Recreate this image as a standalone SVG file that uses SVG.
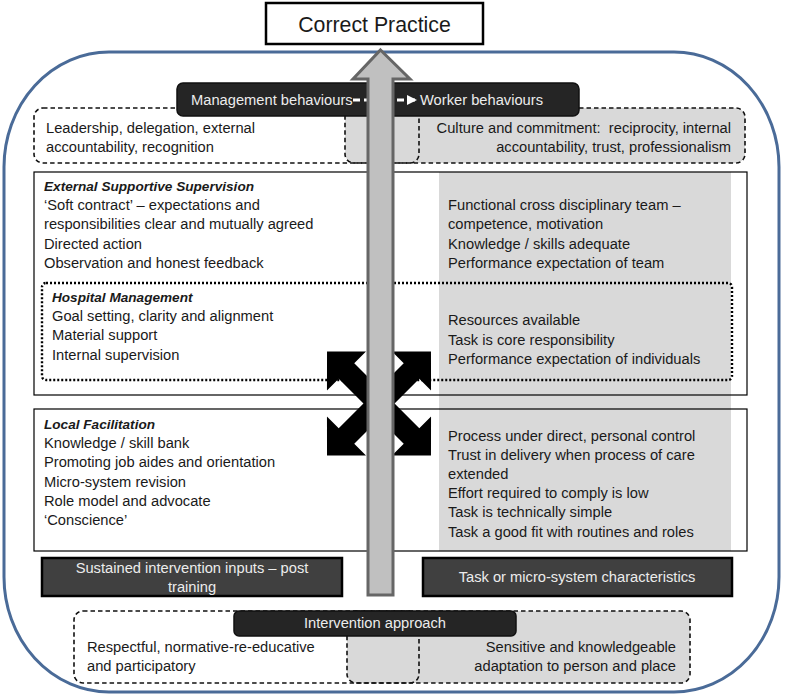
<svg xmlns="http://www.w3.org/2000/svg" width="786" height="697" viewBox="0 0 786 697">
<style>
text{font-family:"Liberation Sans",Arial,sans-serif;font-size:14.7px;fill:#1a1a1a}
.hd{font-weight:bold;font-style:italic;font-size:13.6px}
.lt{fill:#ececec}
.pre{white-space:pre}
.dash{fill:none;stroke:#111;stroke-width:1.6;stroke-dasharray:4.5 3}
.dashg{fill:#d9d9d9;stroke:#111;stroke-width:1.6;stroke-dasharray:4.5 3}
.lbl{fill:#252525;stroke:#111;stroke-width:1.5}
.dk{fill:#404040;stroke:#000;stroke-width:2.5}
.box{fill:none;stroke:#000;stroke-width:1.2}
</style>
<defs>
<marker id="wh" viewBox="0 0 10 10" refX="9" refY="5" markerWidth="3.2" markerHeight="3.2" orient="auto">
<path d="M0 0L10 5L0 10Z" fill="#fff"/>
</marker>
</defs>
<rect x="4" y="52" width="775" height="640" rx="105" ry="115" fill="none" stroke="#4a6b98" stroke-width="3"/>

<g id="correct-practice">
<rect x="266" y="3" width="217" height="41" fill="#fff" stroke="#000" stroke-width="2.5"/>
<text x="374.5" y="31.5" text-anchor="middle" style="font-size:21.3px">Correct Practice</text>
</g>

<g id="behaviours-top">
<rect class="dashg" x="345" y="108" width="400" height="55" rx="9"/>
<rect class="dash" x="34" y="108" width="385" height="55" rx="9"/>
<text x="46" y="133">Leadership, delegation, external</text>
<text x="46" y="152">accountability, recognition</text>
<text x="731" y="133" text-anchor="end" class="pre">Culture and commitment:  reciprocity, internal</text>
<text x="731" y="152" text-anchor="end">accountability, trust, professionalism</text>
</g>

<g id="behaviours-label">
<rect class="lbl" x="177" y="83" width="402" height="33" rx="6"/>
<text class="lt" x="191" y="105">Management behaviours</text>
<text class="lt" x="420" y="105">Worker behaviours</text>
</g>

<g id="panels">
<rect x="439" y="172" width="292" height="379" fill="#d9d9d9"/>
<rect class="box" x="34" y="172" width="713" height="223"/>
<rect class="box" x="34" y="409" width="713" height="142"/>
</g>

<g id="external-supervision">
<text class="hd" x="44" y="191">External Supportive Supervision</text>
<text x="44" y="210">‘Soft contract’ – expectations and</text>
<text x="44" y="229">responsibilities clear and mutually agreed</text>
<text x="44" y="249">Directed action</text>
<text x="44" y="268">Observation and honest feedback</text>
</g>

<g id="team-characteristics">
<text x="448" y="210">Functional cross disciplinary team –</text>
<text x="448" y="229">competence, motivation</text>
<text x="448" y="249">Knowledge / skills adequate</text>
<text x="448" y="268">Performance expectation of team</text>
</g>

<g id="hospital-management">
<rect x="42" y="283" width="690" height="97" rx="4" fill="none" stroke="#000" stroke-width="2.4" stroke-dasharray="2 2"/>
<text class="hd" x="52" y="302">Hospital Management</text>
<text x="52" y="321">Goal setting, clarity and alignment</text>
<text x="52" y="340">Material support</text>
<text x="52" y="360">Internal supervision</text>
<text x="448" y="325">Resources available</text>
<text x="448" y="345">Task is core responsibility</text>
<text x="448" y="364">Performance expectation of individuals</text>
</g>

<g id="local-facilitation">
<text class="hd" x="44" y="429">Local Facilitation</text>
<text x="44" y="448">Knowledge / skill bank</text>
<text x="44" y="467">Promoting job aides and orientation</text>
<text x="44" y="487">Micro-system revision</text>
<text x="44" y="506">Role model and advocate</text>
<text x="44" y="525">‘Conscience’</text>
</g>

<g id="task-characteristics">
<text x="448" y="441">Process under direct, personal control</text>
<text x="448" y="460">Trust in delivery when process of care</text>
<text x="448" y="479">extended</text>
<text x="448" y="498">Effort required to comply is low</text>
<text x="448" y="517">Task is technically simple</text>
<text x="448" y="537">Task a good fit with routines and roles</text>
</g>

<g id="sustained-inputs">
<rect class="dk" x="42" y="558" width="300" height="38"/>
<text class="lt" x="192" y="573" text-anchor="middle">Sustained intervention inputs – post</text>
<text class="lt" x="192" y="592" text-anchor="middle">training</text>
</g>

<g id="task-label">
<rect class="dk" x="423" y="558" width="309" height="38"/>
<text class="lt" x="577" y="582" text-anchor="middle">Task or micro-system characteristics</text>
</g>

<g id="intervention-approach">
<rect class="dashg" x="347" y="611" width="343" height="72" rx="9"/>
<rect class="dash" x="74" y="611" width="345" height="72" rx="9"/>
<rect class="lbl" x="234" y="611" width="282" height="25" rx="5"/>
<text class="lt" x="375" y="628" text-anchor="middle">Intervention approach</text>
<text x="87" y="652">Respectful, normative-re-educative</text>
<text x="87" y="671">and participatory</text>
<text x="676" y="652" text-anchor="end">Sensitive and knowledgeable</text>
<text x="676" y="671" text-anchor="end">adaptation to person and place</text>
</g>

<g id="connectors">
<line x1="353" y1="100" x2="416" y2="100" stroke="#fff" stroke-width="3.2" stroke-dasharray="7 4" marker-end="url(#wh)"/>
<polygon transform="translate(379 403.5) rotate(45)" fill="#000" points="11,-11 46,-11 46,-27.6 73.5,0 46,27.6 46,11 11,11 11,46 27.6,46 0,73.5 -27.6,46 -11,46 -11,11 -46,11 -46,27.6 -73.5,0 -46,-27.6 -46,-11 -11,-11 -11,-46 -27.6,-46 0,-73.5 27.6,-46 11,-46"/>
<polygon points="380.5,50 410,79 393,79 393,595 368,595 368,79 353,79" fill="#c0c0c0" stroke="#666" stroke-width="3" stroke-linejoin="miter"/>
</g>
</svg>
